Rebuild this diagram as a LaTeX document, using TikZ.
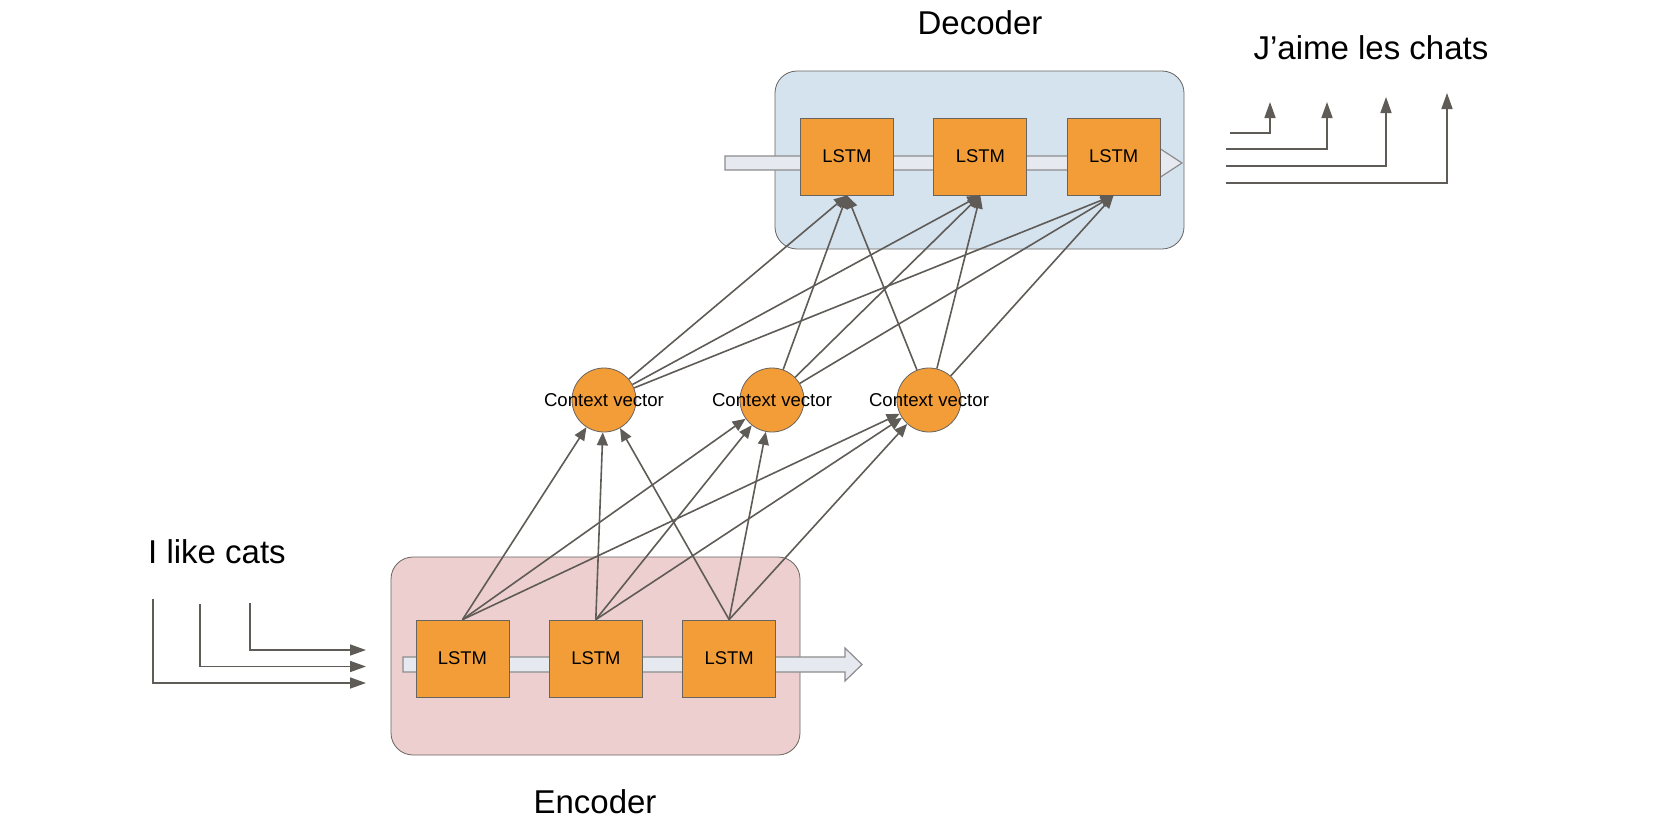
\documentclass[tikz,border=0pt]{standalone}
\usepackage{fontspec}
\setmainfont{Liberation Sans}
\usetikzlibrary{positioning, arrows.meta}

\definecolor{lstmorange}{RGB}{242,157,56}
\definecolor{encfill}{RGB}{237,207,207}
\definecolor{decfill}{RGB}{213,227,239}
\definecolor{boxgray}{RGB}{104,100,96}
\definecolor{linegray}{RGB}{95,91,86}
\definecolor{bandgray}{RGB}{140,140,140}
\definecolor{bandfill}{RGB}{230,234,240}

\begin{document}
\begin{tikzpicture}[x=0.5pt, y=-0.5pt,
  lstm/.style={draw=boxgray, fill=lstmorange, minimum width=46.5pt, minimum height=38.5pt, inner sep=0pt, font=\fontsize{9.2}{11}\selectfont},
  ctx/.style={circle, draw=boxgray, fill=lstmorange, minimum size=32pt, inner sep=0pt},
  ctxlabel/.style={inner sep=0pt, font=\fontsize{9.3}{11}\selectfont},
  stage/.style={draw=boxgray, rounded corners=11pt, minimum width=204.5pt, inner sep=0pt},
  title/.style={inner sep=0pt, font=\fontsize{16.5}{20}\selectfont},
  link/.style={draw=linegray, line width=0.8pt, -{Triangle[length=6.5pt,width=5.5pt]}},
  flow/.style={draw=linegray, line width=0.8pt, -{Triangle[length=8pt,width=5.5pt]}},
  band/.style={draw=bandgray, fill=bandfill, line width=0.6pt}
]
\useasboundingbox (0,0) rectangle (1665,830);

\node[stage, fill=encfill, minimum height=99pt] (encoder) at (595.5,656) {};
\node[stage, fill=decfill, minimum height=89pt] (decoder) at (979.5,160) {};

% hidden state flow
\draw[band] (403,657) -- (845,657) -- (845,648) -- (862,664.5) -- (845,681) -- (845,672) -- (403,672) -- cycle;
\draw[band] (725,156) -- (1159,156) -- (1159,148) -- (1182,163) -- (1159,178) -- (1159,170) -- (725,170) -- cycle;

\node[lstm] (e1) at (462.5,658.5) {LSTM};
\node[lstm, right=19.75pt of e1] (e2) {LSTM};
\node[lstm, right=19.75pt of e2] (e3) {LSTM};

\node[lstm] (d1) at (847,156.5) {LSTM};
\node[lstm, right=19.75pt of d1] (d2) {LSTM};
\node[lstm, right=19.75pt of d2] (d3) {LSTM};

\node[ctx] (c1) at (604,400) {};
\node[ctx] (c2) at (772,400) {};
\node[ctx] (c3) at (929,400) {};
\node[ctxlabel] (c1text) at (c1) {Context vector};
\node[ctxlabel] (c2text) at (c2) {Context vector};
\node[ctxlabel] (c3text) at (c3) {Context vector};

\node[title] (enctitle) at (595,802) {Encoder};
\node[title] (dectitle) at (980,23) {Decoder};
\node[title] (source) at (217,552) {I like cats};
\node[title] (target) at (1371,48) {J’aime les chats};

% encoder -> context
\draw[link] (e1.north) -- (c1);
\draw[link] (e1.north) -- (c2);
\draw[link] (e1.north) -- (c3);
\draw[link] (e2.north) -- (c1);
\draw[link] (e2.north) -- (c2);
\draw[link] (e2.north) -- (c3);
\draw[link] (e3.north) -- (c1);
\draw[link] (e3.north) -- (c2);
\draw[link] (e3.north) -- (c3);

% context -> decoder
\draw[link] (c1) -- (d1.south);
\draw[link] (c1) -- (d2.south);
\draw[link] (c1) -- (d3.south);
\draw[link] (c2) -- (d1.south);
\draw[link] (c2) -- (d2.south);
\draw[link] (c2) -- (d3.south);
\draw[link] (c3) -- (d1.south);
\draw[link] (c3) -- (d2.south);
\draw[link] (c3) -- (d3.south);

% input words
\coordinate (in1) at (153,599);
\coordinate (in2) at (200,604);
\coordinate (in3) at (250,603);
\coordinate (feed1) at (366,683);
\coordinate (feed2) at (366,666.5);
\coordinate (feed3) at (366,650);
\draw[flow] (in1) |- (feed1);
\draw[flow] (in2) |- (feed2);
\draw[flow] (in3) |- (feed3);

% output words
\coordinate (out1) at (1230,133);
\coordinate (out2) at (1226,149);
\coordinate (out3) at (1226,166);
\coordinate (out4) at (1226,183);
\coordinate (word1) at (1270,102);
\coordinate (word2) at (1327,102);
\coordinate (word3) at (1386,97);
\coordinate (word4) at (1447,93);
\draw[flow] (out1) -| (word1);
\draw[flow] (out2) -| (word2);
\draw[flow] (out3) -| (word3);
\draw[flow] (out4) -| (word4);
\end{tikzpicture}
\end{document}
